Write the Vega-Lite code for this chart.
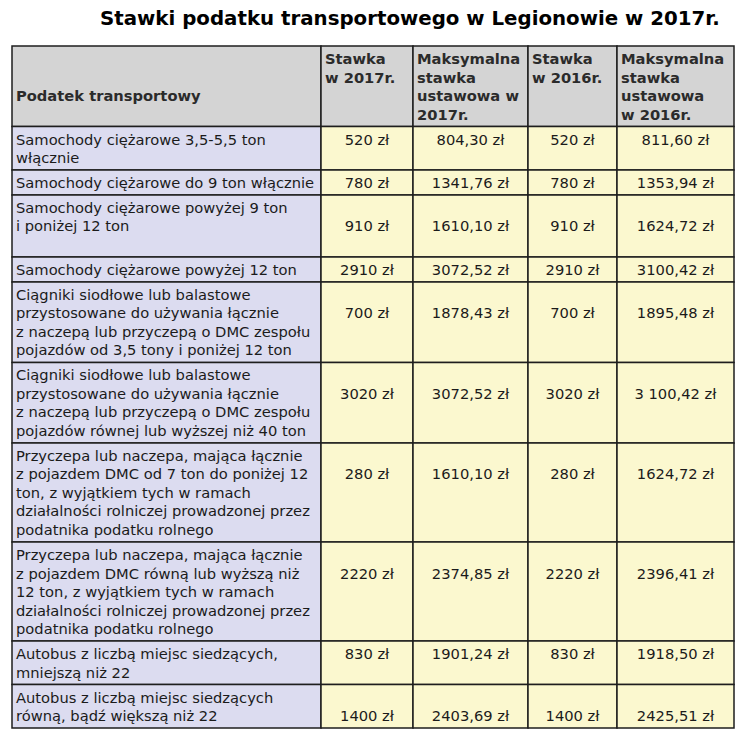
{
  "$schema": "https://vega.github.io/schema/vega-lite/v6.json",
  "background": "white",
  "bounds": "flush",
  "padding": {"left": 11, "top": 9, "right": 0, "bottom": 0},
  "title": {"text": "Stawki podatku transportowego w Legionowie w 2017r.", "font": "DejaVu Sans", "fontSize": 19.8, "fontWeight": "bold", "color": "#000000", "anchor": "end", "dx": -15, "offset": 16},
  "data": {"values": [
    {"nr": 0, "kat": ["Podatek transportowy"], "s2017": ["Stawka", "w 2017r."], "m2017": ["Maksymalna", "stawka", "ustawowa w", "2017r."], "s2016": ["Stawka", "w 2016r."], "m2016": ["Maksymalna", "stawka", "ustawowa", "w 2016r."]},
    {"nr": 1, "kat": ["Samochody ciężarowe 3,5-5,5 ton", "włącznie"], "s2017": ["520 zł"], "m2017": ["804,30 zł"], "s2016": ["520 zł"], "m2016": ["811,60 zł"]},
    {"nr": 2, "kat": ["Samochody ciężarowe do 9 ton włącznie"], "s2017": ["780 zł"], "m2017": ["1341,76 zł"], "s2016": ["780 zł"], "m2016": ["1353,94 zł"]},
    {"nr": 3, "kat": ["Samochody ciężarowe powyżej 9 ton", "i poniżej 12 ton", ""], "s2017": ["", "910 zł"], "m2017": ["", "1610,10 zł"], "s2016": ["", "910 zł"], "m2016": ["", "1624,72 zł"]},
    {"nr": 4, "kat": ["Samochody ciężarowe powyżej 12 ton"], "s2017": ["2910 zł"], "m2017": ["3072,52 zł"], "s2016": ["2910 zł"], "m2016": ["3100,42 zł"]},
    {"nr": 5, "kat": ["Ciągniki siodłowe lub balastowe", "przystosowane do używania łącznie", "z naczepą lub przyczepą o DMC zespołu", "pojazdów od 3,5 tony i poniżej 12 ton"], "s2017": ["", "700 zł"], "m2017": ["", "1878,43 zł"], "s2016": ["", "700 zł"], "m2016": ["", "1895,48 zł"]},
    {"nr": 6, "kat": ["Ciągniki siodłowe lub balastowe", "przystosowane do używania łącznie", "z naczepą lub przyczepą o DMC zespołu", "pojazdów równej lub wyższej niż 40 ton"], "s2017": ["", "3020 zł"], "m2017": ["", "3072,52 zł"], "s2016": ["", "3020 zł"], "m2016": ["", "3 100,42 zł"]},
    {"nr": 7, "kat": ["Przyczepa lub naczepa, mająca łącznie", "z pojazdem DMC od 7 ton do poniżej 12", "ton, z wyjątkiem tych w ramach", "działalności rolniczej prowadzonej przez", "podatnika podatku rolnego"], "s2017": ["", "280 zł"], "m2017": ["", "1610,10 zł"], "s2016": ["", "280 zł"], "m2016": ["", "1624,72 zł"]},
    {"nr": 8, "kat": ["Przyczepa lub naczepa, mająca łącznie", "z pojazdem DMC równą lub wyższą niż", "12 ton, z wyjątkiem tych w ramach", "działalności rolniczej prowadzonej przez", "podatnika podatku rolnego"], "s2017": ["", "2220 zł"], "m2017": ["", "2374,85 zł"], "s2016": ["", "2220 zł"], "m2016": ["", "2396,41 zł"]},
    {"nr": 9, "kat": ["Autobus z liczbą miejsc siedzących,", "mniejszą niż 22"], "s2017": ["830 zł"], "m2017": ["1901,24 zł"], "s2016": ["830 zł"], "m2016": ["1918,50 zł"]},
    {"nr": 10, "kat": ["Autobus z liczbą miejsc siedzących", "równą, bądź większą niż 22"], "s2017": ["", "1400 zł"], "m2017": ["", "2403,69 zł"], "s2016": ["", "1400 zł"], "m2016": ["", "2425,51 zł"]}
  ]},
  "transform": [
    {"calculate": "max(length(datum.kat), length(datum.s2017), length(datum.m2017), length(datum.s2016), length(datum.m2016)) + 0.35", "as": "h"},
    {"window": [{"op": "sum", "field": "h", "as": "y1"}], "sort": [{"field": "nr"}], "frame": [null, 0]},
    {"calculate": "datum.y1 - datum.h", "as": "y0"}
  ],
  "spacing": 0,
  "resolve": {"scale": {"y": "shared", "x": "independent"}},
  "hconcat": [
    {
      "width": 309, "height": 682,
      "layer": [
        {"mark": {"type": "rect", "stroke": "#1e1e1e", "strokeWidth": 1.5},
         "encoding": {
           "x": {"datum": "kat", "type": "nominal", "axis": null, "scale": {"paddingInner": 0, "paddingOuter": 0}},
           "y": {"field": "y0", "type": "quantitative", "axis": null, "scale": {"reverse": true, "nice": false, "zero": true}},
           "y2": {"field": "y1"},
           "fill": {"condition": {"test": "datum.nr == 0", "value": "#d4d4d4"}, "value": "#dcdcf0"}
         }},
        {"transform": [{"filter": "datum.nr == 0"}],
         "mark": {"type": "text", "align": "left", "baseline": "top", "fontWeight": "bold", "dx": 4, "dy": 43, "color": "#2b2b2b"},
         "encoding": {"x": {"value": 0}, "y": {"field": "y0", "type": "quantitative", "axis": null}, "text": {"field": "kat", "type": "nominal"}}},
        {"transform": [{"filter": "datum.nr > 0"}],
         "mark": {"type": "text", "align": "left", "baseline": "top", "dx": 4, "dy": 6},
         "encoding": {"x": {"value": 0}, "y": {"field": "y0", "type": "quantitative", "axis": null}, "text": {"field": "kat", "type": "nominal"}}}
      ]
    },
    {
      "width": 92, "height": 682,
      "layer": [
        {"mark": {"type": "rect", "stroke": "#1e1e1e", "strokeWidth": 1.5},
         "encoding": {
           "x": {"datum": "s2017", "type": "nominal", "axis": null, "scale": {"paddingInner": 0, "paddingOuter": 0}},
           "y": {"field": "y0", "type": "quantitative", "axis": null, "scale": {"reverse": true, "nice": false, "zero": true}},
           "y2": {"field": "y1"},
           "fill": {"condition": {"test": "datum.nr == 0", "value": "#d4d4d4"}, "value": "#fbf8cf"}
         }},
        {"transform": [{"filter": "datum.nr == 0"}],
         "mark": {"type": "text", "align": "left", "baseline": "top", "fontWeight": "bold", "dx": 4, "dy": 6, "color": "#2b2b2b"},
         "encoding": {"x": {"value": 0}, "y": {"field": "y0", "type": "quantitative", "axis": null}, "text": {"field": "s2017", "type": "nominal"}}},
        {"transform": [{"filter": "datum.nr > 0"}],
         "mark": {"type": "text", "align": "center", "baseline": "top", "dy": 6},
         "encoding": {"x": {"datum": "s2017", "type": "nominal", "axis": null}, "y": {"field": "y0", "type": "quantitative", "axis": null}, "text": {"field": "s2017", "type": "nominal"}}}
      ]
    },
    {
      "width": 115, "height": 682,
      "layer": [
        {"mark": {"type": "rect", "stroke": "#1e1e1e", "strokeWidth": 1.5},
         "encoding": {
           "x": {"datum": "m2017", "type": "nominal", "axis": null, "scale": {"paddingInner": 0, "paddingOuter": 0}},
           "y": {"field": "y0", "type": "quantitative", "axis": null, "scale": {"reverse": true, "nice": false, "zero": true}},
           "y2": {"field": "y1"},
           "fill": {"condition": {"test": "datum.nr == 0", "value": "#d4d4d4"}, "value": "#fbf8cf"}
         }},
        {"transform": [{"filter": "datum.nr == 0"}],
         "mark": {"type": "text", "align": "left", "baseline": "top", "fontWeight": "bold", "dx": 4, "dy": 6, "color": "#2b2b2b"},
         "encoding": {"x": {"value": 0}, "y": {"field": "y0", "type": "quantitative", "axis": null}, "text": {"field": "m2017", "type": "nominal"}}},
        {"transform": [{"filter": "datum.nr > 0"}],
         "mark": {"type": "text", "align": "center", "baseline": "top", "dy": 6},
         "encoding": {"x": {"datum": "m2017", "type": "nominal", "axis": null}, "y": {"field": "y0", "type": "quantitative", "axis": null}, "text": {"field": "m2017", "type": "nominal"}}}
      ]
    },
    {
      "width": 89, "height": 682,
      "layer": [
        {"mark": {"type": "rect", "stroke": "#1e1e1e", "strokeWidth": 1.5},
         "encoding": {
           "x": {"datum": "s2016", "type": "nominal", "axis": null, "scale": {"paddingInner": 0, "paddingOuter": 0}},
           "y": {"field": "y0", "type": "quantitative", "axis": null, "scale": {"reverse": true, "nice": false, "zero": true}},
           "y2": {"field": "y1"},
           "fill": {"condition": {"test": "datum.nr == 0", "value": "#d4d4d4"}, "value": "#fbf8cf"}
         }},
        {"transform": [{"filter": "datum.nr == 0"}],
         "mark": {"type": "text", "align": "left", "baseline": "top", "fontWeight": "bold", "dx": 4, "dy": 6, "color": "#2b2b2b"},
         "encoding": {"x": {"value": 0}, "y": {"field": "y0", "type": "quantitative", "axis": null}, "text": {"field": "s2016", "type": "nominal"}}},
        {"transform": [{"filter": "datum.nr > 0"}],
         "mark": {"type": "text", "align": "center", "baseline": "top", "dy": 6},
         "encoding": {"x": {"datum": "s2016", "type": "nominal", "axis": null}, "y": {"field": "y0", "type": "quantitative", "axis": null}, "text": {"field": "s2016", "type": "nominal"}}}
      ]
    },
    {
      "width": 117, "height": 682,
      "layer": [
        {"mark": {"type": "rect", "stroke": "#1e1e1e", "strokeWidth": 1.5},
         "encoding": {
           "x": {"datum": "m2016", "type": "nominal", "axis": null, "scale": {"paddingInner": 0, "paddingOuter": 0}},
           "y": {"field": "y0", "type": "quantitative", "axis": null, "scale": {"reverse": true, "nice": false, "zero": true}},
           "y2": {"field": "y1"},
           "fill": {"condition": {"test": "datum.nr == 0", "value": "#d4d4d4"}, "value": "#fbf8cf"}
         }},
        {"transform": [{"filter": "datum.nr == 0"}],
         "mark": {"type": "text", "align": "left", "baseline": "top", "fontWeight": "bold", "dx": 4, "dy": 6, "color": "#2b2b2b"},
         "encoding": {"x": {"value": 0}, "y": {"field": "y0", "type": "quantitative", "axis": null}, "text": {"field": "m2016", "type": "nominal"}}},
        {"transform": [{"filter": "datum.nr > 0"}],
         "mark": {"type": "text", "align": "center", "baseline": "top", "dy": 6},
         "encoding": {"x": {"datum": "m2016", "type": "nominal", "axis": null}, "y": {"field": "y0", "type": "quantitative", "axis": null}, "text": {"field": "m2016", "type": "nominal"}}}
      ]
    }
  ],
  "config": {
    "view": {"stroke": null},
    "text": {"font": "DejaVu Sans", "fontSize": 14.7, "lineHeight": 18.5, "color": "#1b1b1b"}
  }
}
